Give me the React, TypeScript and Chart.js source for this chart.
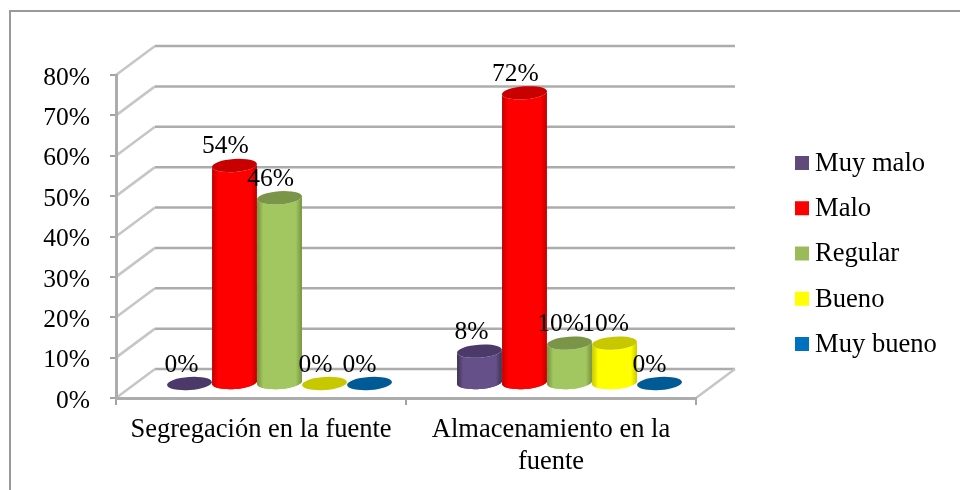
import React, { useEffect, useRef } from "react";
import { Chart, registerables } from "chart.js";

Chart.register(...registerables);

const categories = [["Segregación en la fuente"], ["Almacenamiento en la", "fuente"]];
const seriesNames = ["Muy malo", "Malo", "Regular", "Bueno", "Muy bueno"];
const muyMalo = [0, 8];
const malo = [54, 72];
const regular = [46, 10];
const bueno = [0, 10];
const muyBueno = [0, 0];
const seriesValues = [muyMalo, malo, regular, bueno, muyBueno];
const yTicks = [0, 10, 20, 30, 40, 50, 60, 70, 80];

const legendColors = ["#604a7b", "#ff0000", "#9bbb59", "#ffff00", "#0070c0"];
const edgeColors = ["#3f3151", "#c00000", "#76923c", "#c8c800", "#005a96"];
const midColors = ["#66508a", "#ff0000", "#a2c761", "#ffff00", "#0070c0"];
const topColors = ["#4b3a69", "#c80000", "#7a9548", "#c8c800", "#005a96"];
const labelOffsets = [-8, -9, -9, -9, -10];

const LABEL_FONT = '25.5px "Liberation Serif"';
const LEGEND_FONT = '26.6px "Liberation Serif"';
const DX = 39;
const DY = 29;
const RY = 6.5;
const TILT = -0.07;

const scene = {
  id: "scene3d",
  beforeDraw(chart: any) {
    const { ctx, chartArea: a, scales } = chart;
    ctx.save();
    ctx.fillStyle = "#fff";
    ctx.fillRect(0, 0, chart.width, chart.height);
    ctx.strokeStyle = "#999999";
    ctx.lineWidth = 2;
    ctx.beginPath();
    ctx.moveTo(10, 490);
    ctx.lineTo(10, 11);
    ctx.lineTo(960, 11);
    ctx.stroke();
    yTicks.forEach((t) => {
      const y = scales.y.getPixelForValue(t);
      ctx.strokeStyle = "#c6c6c6";
      ctx.lineWidth = 2.5;
      ctx.beginPath();
      ctx.moveTo(a.left, y);
      ctx.lineTo(a.left + DX, y - DY);
      ctx.stroke();
      ctx.strokeStyle = "#acacac";
      ctx.lineWidth = 2.5;
      ctx.beginPath();
      ctx.moveTo(a.left + DX, y - DY);
      ctx.lineTo(a.right + DX, y - DY);
      ctx.stroke();
    });
    ctx.strokeStyle = "#c6c6c6";
    ctx.beginPath();
    ctx.moveTo(a.right, a.bottom);
    ctx.lineTo(a.right + DX, a.bottom - DY);
    ctx.stroke();
    ctx.restore();
  },
  beforeDatasetsDraw(chart: any) {
    const { ctx } = chart;
    chart.data.datasets.forEach((_: any, di: number) => {
      const meta = chart.getDatasetMeta(di);
      meta.data.forEach((el: any) => {
        const cx = el.x + DX / 2 - 1;
        const rx = el.width / 2;
        const top = el.y - DY / 2;
        const base = el.base - DY / 2;
        ctx.save();
        if (base - top > 0.5) {
          const g = ctx.createLinearGradient(cx - rx, 0, cx + rx, 0);
          g.addColorStop(0, edgeColors[di]);
          g.addColorStop(0.14, midColors[di]);
          g.addColorStop(0.86, midColors[di]);
          g.addColorStop(1, edgeColors[di]);
          ctx.fillStyle = g;
          ctx.beginPath();
          ctx.ellipse(cx, base, rx, RY, TILT, 0, Math.PI);
          ctx.ellipse(cx, top, rx, RY, TILT, Math.PI, 0, true);
          ctx.closePath();
          ctx.fill();
          ctx.fillStyle = g;
          ctx.beginPath();
          ctx.ellipse(cx, base, rx, RY, TILT, 0, Math.PI * 2);
          ctx.fill();
        }
        ctx.fillStyle = topColors[di];
        ctx.beginPath();
        ctx.ellipse(cx, top, rx, RY, TILT, 0, Math.PI * 2);
        ctx.fill();
        ctx.restore();
      });
    });
    ctx.save();
    ctx.font = LABEL_FONT;
    ctx.fillStyle = "#000";
    ctx.textAlign = "center";
    ctx.textBaseline = "alphabetic";
    chart.data.datasets.forEach((ds: any, di: number) => {
      chart.getDatasetMeta(di).data.forEach((el: any, i: number) => {
        const cx = el.x + DX / 2 - 1 + labelOffsets[di];
        ctx.fillText(ds.data[i] + "%", cx, el.y - DY / 2 - 12);
      });
    });
    ctx.restore();
    ctx.save();
    ctx.font = LEGEND_FONT;
    ctx.textAlign = "left";
    ctx.textBaseline = "middle";
    seriesNames.forEach((n, i) => {
      const y = 163 + i * 45.25;
      ctx.fillStyle = legendColors[i];
      ctx.fillRect(795, y - 7, 14, 14);
      ctx.fillStyle = "#000";
      ctx.fillText(n, 815, y + 1);
    });
    ctx.restore();
    return false;
  },
};

export default function App() {
  const ref = useRef<HTMLCanvasElement>(null);
  useEffect(() => {
    const chart = new Chart(ref.current as HTMLCanvasElement, {
      type: "bar",
      data: {
        labels: categories as any,
        datasets: seriesNames.map((label, i) => ({
          label,
          data: seriesValues[i],
          backgroundColor: legendColors[i],
          categoryPercentage: 0.776,
          barPercentage: 1,
        })),
      },
      plugins: [scene],
      options: {
        responsive: false,
        animation: false,
        layout: { padding: { left: 0, top: 75, right: 264, bottom: 0 } },
        plugins: { legend: { display: false }, tooltip: { enabled: false } },
        scales: {
          x: {
            afterFit: (s: any) => { s.height = 92; },
            grid: { drawOnChartArea: false, drawTicks: true, tickLength: 7, color: "#a3a3a3", lineWidth: 2, offset: true },
            border: { color: "#acacac", width: 3 },
            ticks: { color: "#000", font: { family: "Liberation Serif", size: 26.5 }, padding: 9, maxRotation: 0, autoSkip: false },
          },
          y: {
            min: 0,
            max: 80,
            afterFit: (s: any) => { s.width = 116; },
            grid: { drawOnChartArea: false, drawTicks: true, tickLength: 6, color: "#a3a3a3", lineWidth: 2 },
            border: { color: "#acacac", width: 3 },
            afterBuildTicks: (s: any) => { s.ticks = yTicks.map((value) => ({ value })); },
            ticks: { color: "#000", font: { family: "Liberation Serif", size: 25.5 }, padding: 20, labelOffset: 3, callback: (v: any) => v + "%" },
          },
        },
      } as any,
    });
    return () => chart.destroy();
  }, []);
  return (
    <div style={{ position: "fixed", left: 0, top: 0, width: 960, height: 490, background: "#fff", overflow: "hidden" }}>
      <canvas ref={ref} width={960} height={490} style={{ display: "block", filter: "blur(0.45px)" }} />
    </div>
  );
}
